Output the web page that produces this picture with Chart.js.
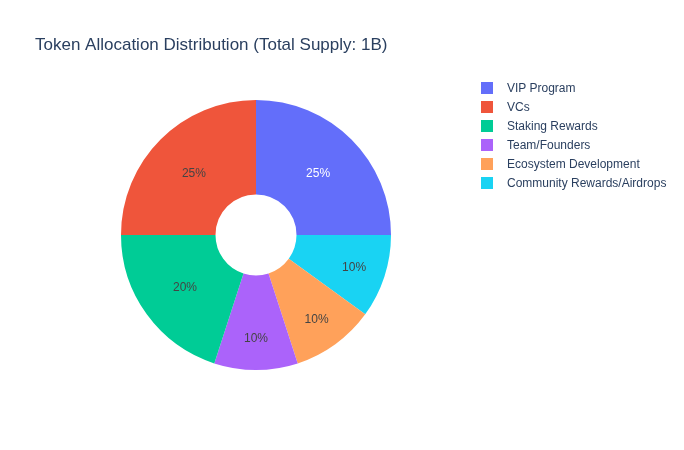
<!DOCTYPE html>
<html>
<head>
    <meta charset="UTF-8">
    <title>Token Allocation Distribution</title>
    <script src="https://cdn.jsdelivr.net/npm/chart.js"></script>
    <style>
        body {
            margin: 0;
            background-color: #fff;
            font-family: Arial, "Liberation Sans", sans-serif;
        }

        .wrap {
            position: relative;
            width: 684px;
            height: 450px;
        }

        #legend {
            position: absolute;
            left: 481px;
            top: 79px;
            margin: 0;
            padding: 0;
            list-style: none;
        }

        #legend li {
            height: 18.9px;
            display: flex;
            align-items: center;
            font-size: 12px;
            color: #2a3f5f;
            white-space: nowrap;
        }

        #legend span.box {
            display: inline-block;
            width: 12px;
            height: 12px;
            margin-right: 14px;
        }
    </style>
</head>
<body>
    <div class="wrap">
        <canvas id="allocationChart" width="684" height="450"></canvas>
        <ul id="legend"></ul>
    </div>

    <script>
        // Allocation (millions of tokens, total supply 1B)
        var categories = ['VIP Program', 'VCs', 'Staking Rewards', 'Team/Founders', 'Ecosystem Development', 'Community Rewards/Airdrops'];
        var allocation = [250, 250, 200, 100, 100, 100];
        var sliceColors = ['#636efa', '#EF553B', '#00cc96', '#ab63fa', '#FFA15A', '#19d3f3'];
        var labelColors = ['#ffffff', '#444444', '#444444', '#444444', '#444444', '#444444'];

        // plotly draws these counterclockwise from 3 o'clock, so reverse them and go clockwise
        var drawLabels = categories.slice().reverse();
        var drawValues = allocation.slice().reverse();
        var drawColors = sliceColors.slice().reverse();
        var drawTextColors = labelColors.slice().reverse();

        var total = allocation.reduce(function (a, b) { return a + b; }, 0);

        // percentage text inside each slice, placed like plotly does it
        // (center of the largest circle that fits in the wedge)
        var sliceText = {
            id: 'sliceText',
            afterDatasetsDraw: function (chart) {
                var ctx = chart.ctx;
                var meta = chart.getDatasetMeta(0);
                ctx.save();
                ctx.font = '12px Arial, "Liberation Sans", sans-serif';
                ctx.textAlign = 'center';
                ctx.textBaseline = 'middle';
                meta.data.forEach(function (arc, i) {
                    var p = arc.getProps(['x', 'y', 'startAngle', 'endAngle', 'innerRadius', 'outerRadius'], true);
                    var half = (p.endAngle - p.startAngle) / 2;
                    var mid = p.startAngle + half;
                    var ring = 1 - p.innerRadius / p.outerRadius;
                    var rIns = Math.min(1 / (1 + 1 / Math.sin(half)), ring / 2);
                    var rc = (1 - rIns) * p.outerRadius;
                    var pct = Math.round(drawValues[i] / total * 100) + '%';
                    ctx.fillStyle = drawTextColors[i];
                    ctx.fillText(pct, p.x + Math.cos(mid) * rc, p.y + Math.sin(mid) * rc + 1);
                });
                ctx.restore();
            }
        };

        var ctx = document.getElementById('allocationChart').getContext('2d');
        var chart = new Chart(ctx, {
            type: 'doughnut',
            data: {
                labels: drawLabels,
                datasets: [{
                    data: drawValues,
                    backgroundColor: drawColors,
                    borderWidth: 0,
                    hoverOffset: 0
                }]
            },
            options: {
                responsive: false,
                animation: false,
                cutout: '30%',
                rotation: 90,
                layout: {
                    padding: { left: 35, right: 207, top: 0, bottom: 80 }
                },
                plugins: {
                    legend: { display: false },
                    tooltip: { enabled: false },
                    title: {
                        display: true,
                        text: 'Token Allocation Distribution (Total Supply: 1B)',
                        align: 'start',
                        color: '#2a3f5f',
                        font: { family: 'Arial, "Liberation Sans", sans-serif', size: 17, weight: 'normal' },
                        padding: { top: 35, bottom: 44.6 }
                    }
                }
            },
            plugins: [sliceText]
        });

        // legend in the original order
        var legend = document.getElementById('legend');
        categories.forEach(function (name, i) {
            var li = document.createElement('li');
            var box = document.createElement('span');
            box.className = 'box';
            box.style.backgroundColor = sliceColors[i];
            li.appendChild(box);
            li.appendChild(document.createTextNode(name));
            legend.appendChild(li);
        });
    </script>
</body>
</html>
